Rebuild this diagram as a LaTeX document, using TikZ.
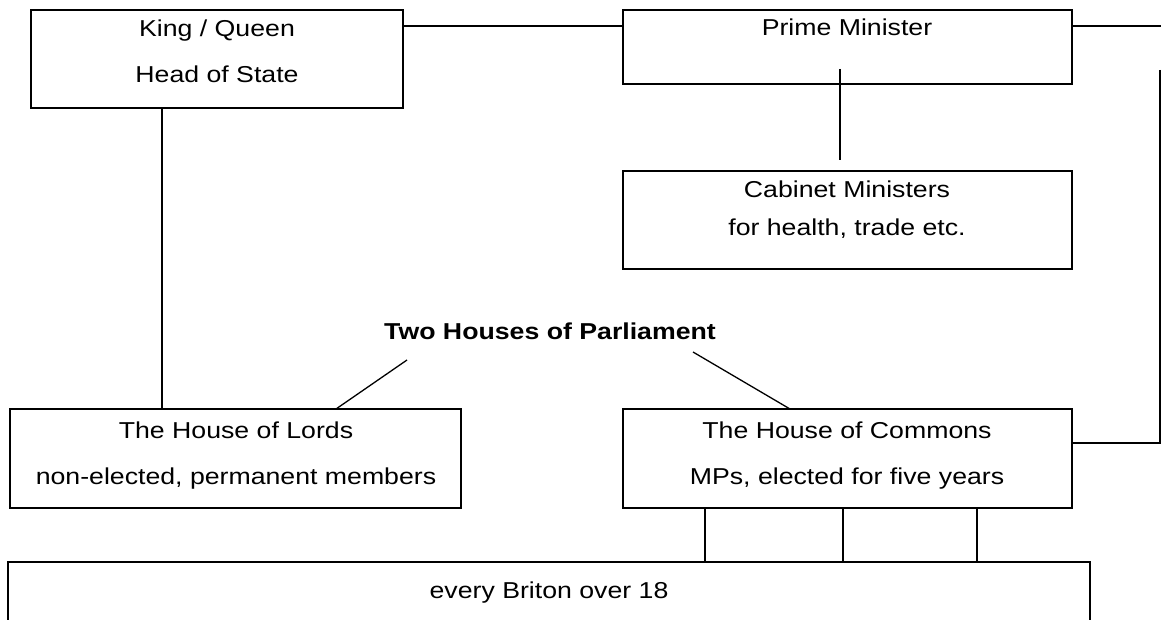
\documentclass[tikz,border=0pt]{standalone}
\usepackage{fontspec}
\setmainfont{Liberation Sans}[FakeStretch=1.16]
\begin{document}
\begin{tikzpicture}[x=1pt,y=-1pt,
  box/.style={draw=black,line width=2pt,inner sep=0pt,minimum width=#1},
  lbl/.style={anchor=base,inner sep=0pt,font=\fontsize{23}{27}\selectfont},
  ttl/.style={anchor=base,inner sep=0pt,font=\fontsize{23}{27}\selectfont\bfseries},
  conn/.style={draw=black,line width=1.3pt}]
\useasboundingbox (0,0) rectangle (1161,620);
\clip (0,0) rectangle (1161,620);
% boxes
\node[box=372pt,minimum height=98pt] (king) at (217,59) {};
\node[box=449pt,minimum height=74pt] (pm) at (847.5,47) {};
\node[box=449pt,minimum height=98pt] (cab) at (847.5,220) {};
\node[box=451pt,minimum height=99pt] (lords) at (235.5,458.5) {};
\node[box=449pt,minimum height=99pt] (commons) at (847.5,458.5) {};
\node[box=1082pt,minimum height=100pt] (voters) at (549,612) {};
% texts
\node[lbl] (t1) at (217,37) {King / Queen};
\node[lbl] (t2) at (217,83) {Head of State};
\node[lbl] (t3) at (847,36) {Prime Minister};
\node[lbl] (t4) at (847,198) {Cabinet Ministers};
\node[lbl] (t5) at (847,236) {for health, trade etc.};
\node[ttl] (title) at (550,339) {Two Houses of Parliament};
\node[lbl] (t6) at (236,438) {The House of Lords};
\node[lbl] (t7) at (236,484) {non-elected, permanent members};
\node[lbl] (t8) at (847,438) {The House of Commons};
\node[lbl] (t9) at (847,484) {MPs, elected for five years};
\node[lbl] (t10) at (549,598) {every Briton over 18};
% coordinates
\coordinate (ytop) at (0,26);
\coordinate (redge) at (1161,26);
\coordinate (rtop) at (1160,70);
\coordinate (rbot) at (1160,443);
\coordinate (pmlow) at (840,69);
\coordinate (cabhigh) at (840,160);
\coordinate (tl) at (407,360);
\coordinate (lordsin) at (336,409);
\coordinate (tr) at (693,352);
\coordinate (comin) at (790,409);
\coordinate (klx) at (162,0);
% connectors
\draw[conn] (king.east |- ytop) -- (pm.west |- ytop);
\draw[conn] (pm.east |- ytop) -- (redge);
\draw[conn] (rtop) -- (rbot) -- (commons.east |- rbot);
\draw[conn] (pmlow) -- (cabhigh);
\draw[conn] (king.south -| klx) -- (lords.north -| klx);
\draw[conn] (tl) -- (lordsin);
\draw[conn] (tr) -- (comin);
\foreach \xx in {705,843,977}{
  \coordinate (v\xx) at (\xx,0);
  \draw[conn] (commons.south -| v\xx) -- (voters.north -| v\xx);
}
\end{tikzpicture}
\end{document}
